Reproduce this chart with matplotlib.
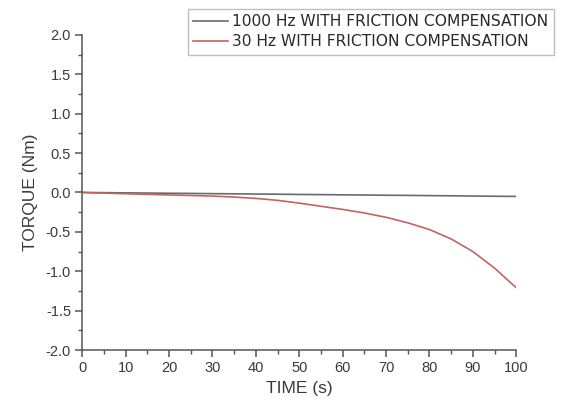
import numpy as np
import matplotlib
matplotlib.use('Agg')
import matplotlib.pyplot as plt
from matplotlib.ticker import MultipleLocator

plt.rcParams['font.family'] = ['Liberation Sans', 'DejaVu Sans']

# data
time_s = [0, 5, 10, 15, 20, 25, 30, 35, 40, 45, 50, 55, 60, 65, 70, 75, 80, 85, 90, 95, 100]
torque_1000hz = [0.0, -0.002, -0.005, -0.007, -0.01, -0.012, -0.015, -0.017, -0.02, -0.022,
                 -0.025, -0.027, -0.03, -0.032, -0.035, -0.037, -0.04, -0.042, -0.045, -0.048, -0.05]
torque_30hz = [0.0, -0.008, -0.016, -0.024, -0.031, -0.038, -0.046, -0.058, -0.075, -0.1,
               -0.135, -0.175, -0.215, -0.26, -0.315, -0.385, -0.47, -0.59, -0.75, -0.96, -1.21]

labels = ['1000 Hz WITH FRICTION COMPENSATION', '30 Hz WITH FRICTION COMPENSATION']

fig = plt.figure(figsize=(5.63, 4.01), dpi=100)
ax = fig.add_axes([0.146, 0.127, 0.771, 0.786])

ax.plot(time_s, torque_1000hz, color='#6a6a6a', lw=1.2, label=labels[0])
ax.plot(time_s, torque_30hz, color='#c06464', lw=1.2, label=labels[1])

ax.set_xlim(0, 100)
ax.set_ylim(-2.0, 2.0)
ax.xaxis.set_major_locator(MultipleLocator(10))
ax.xaxis.set_minor_locator(MultipleLocator(5))
ax.yaxis.set_major_locator(MultipleLocator(0.5))
ax.yaxis.set_minor_locator(MultipleLocator(0.25))
ax.yaxis.set_major_formatter(plt.FormatStrFormatter('%.1f'))

for side in ['top', 'right']:
    ax.spines[side].set_visible(False)
for side in ['left', 'bottom']:
    ax.spines[side].set_color('#555555')
    ax.spines[side].set_linewidth(1.1)

ax.tick_params(which='major', direction='out', length=5, width=1.1, color='#555555',
               labelsize=10.5, labelcolor='#3a3a3a', pad=3)
ax.tick_params(which='minor', direction='out', length=3, width=1.0, color='#555555')

ax.set_xlabel('TIME (s)', fontsize=12.5, color='#3a3a3a', labelpad=4)
ax.set_ylabel('TORQUE (Nm)', fontsize=12.5, color='#3a3a3a', labelpad=6)

# legend box runs right up to the figure edge, like the reference
leg = fig.legend(loc='upper left', bbox_to_anchor=(188 / 563, 1 - 9 / 401),
                 prop={'family': 'DejaVu Sans', 'size': 11.2},
                 frameon=True, fancybox=False, edgecolor='#b0b0b0', handlelength=2.2,
                 borderpad=0.35, labelspacing=0.3, handletextpad=0.3, borderaxespad=0)
leg.get_frame().set_linewidth(1.0)
for t in leg.get_texts():
    t.set_color('#2a2a2a')

fig.savefig('out.png', dpi=100)
